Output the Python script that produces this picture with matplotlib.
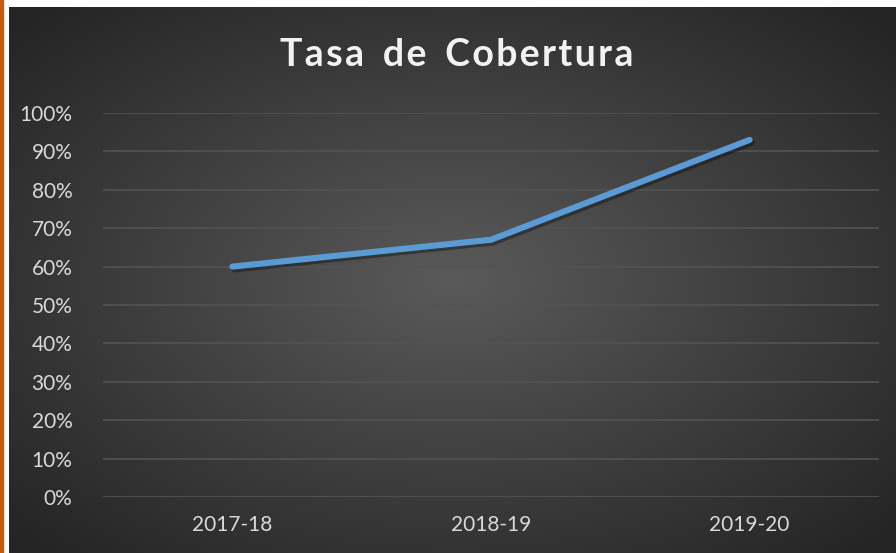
import matplotlib.pyplot as plt
import matplotlib.patheffects as pe
import numpy as np
from matplotlib.patches import Rectangle

# data
seasons = ["2017-18", "2018-19", "2019-20"]
coverage = [0.60, 0.67, 0.93]
y_ticks = [0, 0.1, 0.2, 0.3, 0.4, 0.5, 0.6, 0.7, 0.8, 0.9, 1.0]

plt.rcParams['font.family'] = ['Lato', 'DejaVu Sans']

W, H = 896, 553
fig = plt.figure(figsize=(W / 100, H / 100), dpi=100, facecolor='white')

# orange strip on the left edge
fig.patches.append(Rectangle((0, 0), 3 / W, 1, transform=fig.transFigure,
                             color='#C55A11', zorder=0))

# dark chart area with radial gradient
bx0, by1 = 9 / W, (H - 7) / H
bg = fig.add_axes([bx0, 0, 1 - bx0, by1])
gx, gy = np.meshgrid(np.linspace(-1, 1, 400), np.linspace(-1, 1, 250))
r = np.clip(np.sqrt(gx ** 2 + gy ** 2) / 1.35, 0, 1)
c_in, c_out = np.array([0x5a, 0x5a, 0x5a]) / 255, np.array([0x25, 0x25, 0x25]) / 255
img = c_in[None, None, :] * (1 - r[..., None]) + c_out[None, None, :] * r[..., None]
bg.imshow(img, extent=[0, 1, 0, 1], aspect='auto', origin='lower')
bg.set_axis_off()

# plot area
ax = fig.add_axes([103 / W, (H - 497) / H, 776 / W, 384 / H])
ax.patch.set_alpha(0)
ax.plot(range(len(seasons)), coverage, color='#5B9BD5', linewidth=4.4,
        solid_capstyle='round', solid_joinstyle='round', zorder=3,
        path_effects=[pe.SimpleLineShadow(offset=(1.5, -2), shadow_color='black', alpha=0.35),
                      pe.Normal()])
ax.set_xlim(-0.5, len(seasons) - 0.5)
ax.set_ylim(0, 1)
ax.set_yticks(y_ticks)
ax.set_yticklabels([f"{int(round(v * 100))}%" for v in y_ticks])
ax.set_xticks(range(len(seasons)))
ax.set_xticklabels(seasons)
ax.grid(axis='y', color='#535353', linewidth=1.2)
ax.set_axisbelow(True)
for s in ax.spines.values():
    s.set_visible(False)
ax.tick_params(length=0, colors='#d9d9d9', labelsize=15)
ax.tick_params(axis='y', pad=22)
ax.tick_params(axis='x', pad=13)

fig.text(457 / W, 1 - 55 / H, "T a s a   d e   C o b e r t u r a".replace("   ", "\u2002").replace(" ", "\u200a"),
         ha='center', va='center', color='#f2f2f2', fontsize=27, fontweight='bold')

fig.savefig("out.png", dpi=100, facecolor='white')
